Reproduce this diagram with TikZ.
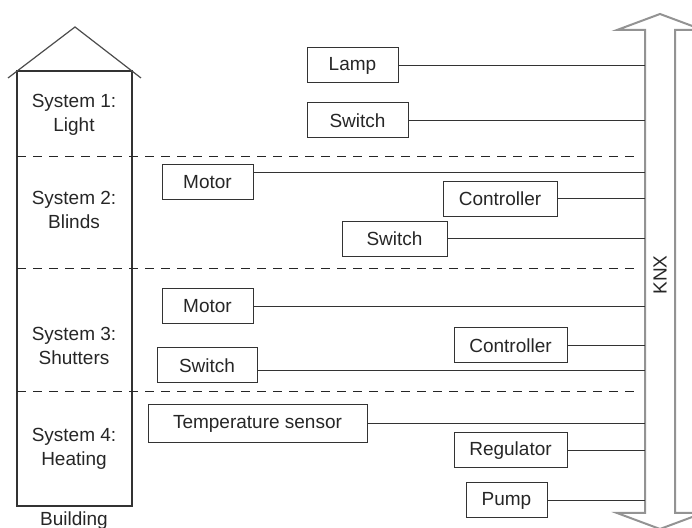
\documentclass[tikz,border=0pt]{standalone}
\usepackage{fontspec}
\setmainfont{Liberation Sans}
\tikzset{
  device/.style={draw=black!80, text=black!85, line width=0.5pt, minimum height=17.5pt, inner sep=0pt, font=\fontsize{9.5}{12}\selectfont},
  label/.style={align=center, text=black!85, font=\fontsize{9.5}{12}\selectfont},
  wire/.style={draw=black!80, line width=0.5pt},
  floor/.style={draw=black!85, line width=0.5pt, dash pattern=on 4.5pt off 3.5pt}
}
\begin{document}
\begin{tikzpicture}[x=0.5pt, y=-0.5pt]
    \useasboundingbox (0,0) rectangle (692,528);
    \clip (0,0) rectangle (692,528);

    % Draw the building with its roof
    \draw[black!80, line width=0.6pt] (17,71) rectangle (132,506);
    \draw[black!70, line width=0.6pt] (8,78) -- (75,27) -- (141,78);
    \node[label] (bldg) at (74,521) {Building};

    % Draw the floors of the building
    \draw[floor] (17,157) -- (634,157);
    \draw[floor] (17,269) -- (634,269);
    \draw[floor] (17,392) -- (634,392);

    % Draw the system names
    \node[label] (sysA) at (74,115) {System 1:\\Light};
    \node[label] (sysB) at (74,210) {System 2:\\Blinds};
    \node[label] (sysC) at (74,346) {System 3:\\Shutters};
    \node[label] (sysD) at (74,449) {System 4:\\Heating};

    % Draw the bus
    \draw[gray!85, line width=1pt] (645,513) -- (645,30) -- (617,30) -- (660,14) -- (703,30)
        -- (675,30) -- (675,513) -- (703,513) -- (660,529) -- (617,513) -- cycle;
    \node[label, rotate=90] (knx) at (660,275) {KNX};
    \coordinate (bus) at (645,0);

    % Draw the devices of system 1
    \node[device, minimum width=45.5pt] (lamp) at (352.5,65.5) {Lamp};
    \node[device, minimum width=50.5pt] (switchA) at (357.5,120.5) {Switch};

    % Draw the devices of system 2
    \node[device, minimum width=45.5pt] (motorB) at (207.5,182.5) {Motor};
    \node[device, minimum width=57pt] (ctrlB) at (500,199) {Controller};
    \node[device, minimum width=52.5pt] (switchB) at (394.5,239) {Switch};

    % Draw the devices of system 3
    \node[device, minimum width=45.5pt] (motorC) at (207.5,306.5) {Motor};
    \node[device, minimum width=56.5pt] (ctrlC) at (510.5,345.5) {Controller};
    \node[device, minimum width=50pt] (switchC) at (207,365.5) {Switch};

    % Draw the devices of system 4
    \node[device, minimum width=109.5pt, minimum height=19pt] (tempD) at (257.5,424) {Temperature sensor};
    \node[device, minimum width=56.5pt] (regD) at (510.5,450.5) {Regulator};
    \node[device, minimum width=40.5pt] (pumpD) at (506.5,500.5) {Pump};

    % Connect the devices to the bus
    \foreach \dev in {lamp, switchA, ctrlB, switchB, motorC, ctrlC, tempD, regD, pumpD}
        \draw[wire] (\dev.east) -- (\dev.east -| bus);
    \draw[wire] ([yshift=5pt]motorB.east) -- ([yshift=5pt]motorB.east -| bus);
    \draw[wire] ([yshift=-2.5pt]switchC.east) -- ([yshift=-2.5pt]switchC.east -| bus);
\end{tikzpicture}
\end{document}
